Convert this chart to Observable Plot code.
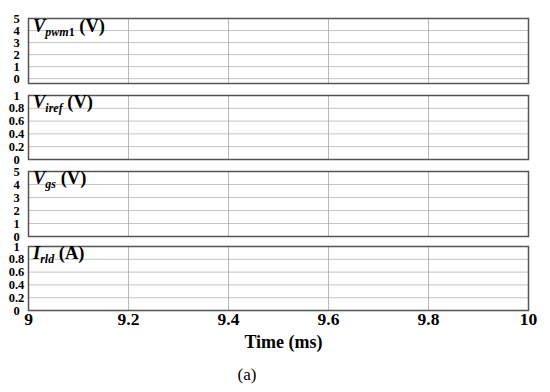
<!DOCTYPE html>
<html>
<head>
<meta charset="utf-8">
<script src="https://cdn.jsdelivr.net/npm/d3@7"></script>
<script src="https://cdn.jsdelivr.net/npm/@observablehq/plot@0.6"></script>
<style>
  html, body { margin: 0; padding: 0; background: #fff; }
  #chart { position: relative; width: 550px; height: 392px; font-family: "Liberation Serif", "Times New Roman", serif; }
  #chart svg { position: absolute; left: 0; overflow: visible; }
  #caption { position: absolute; left: 0; width: 494px; top: 365px; text-align: center; font-size: 17px; color: #000; }
</style>
</head>
<body>
<div id="chart"><div id="caption">(a)</div></div>
<script>
// ---- data ----
const xDomain = [9, 10];
const xTicks = [9, 9.2, 9.4, 9.6, 9.8, 10];
const xGrid = [9.2, 9.4, 9.6, 9.8];
const xLabel = "Time (ms)";

const panelMain = ["V", "V", "V", "I"];
const panelSub = ["pwm", "iref", "gs", "rld"];
const panelSubTail = ["1", "", "", ""];
const panelUnit = ["(V)", "(V)", "(V)", "(A)"];
const panelDomains = [[-0.4, 5], [0, 1], [0, 5], [0, 1]];
const ticksVolt5 = [0, 1, 2, 3, 4, 5];
const ticksUnit1 = [0, 0.2, 0.4, 0.6, 0.8, 1];
const panelTicks = [ticksVolt5, ticksUnit1, ticksVolt5, ticksUnit1];

// ---- layout ----
const frameTops = [18, 95, 171, 246];
const frameHeights = [65, 64, 65, 64];
const mTop = 4, mBot = 4, mLeft = 28, mRight = 22;
const chart = document.getElementById("chart");

panelMain.forEach((m, i) => {
  const last = i === panelMain.length - 1;
  const marginBottom = last ? 44 : mBot;
  const marks = [
    Plot.ruleY(panelTicks[i], {stroke: "#c4c4c4", strokeWidth: 1}),
    Plot.ruleX(xGrid, {stroke: "#a8a8a8", strokeWidth: 0.8}),
    Plot.axisY(panelTicks[i], {
      tickSize: 0, tickPadding: 3, textAnchor: "middle", dx: -9,
      fontSize: 12.5, fontWeight: "bold", fill: "#000", label: null,
      tickFormat: d => String(d)
    }),
    Plot.frame({stroke: "#555", strokeWidth: 1.5})
  ];
  if (last) {
    marks.push(Plot.axisX(xTicks, {
      tickSize: 0, tickPadding: 2, fontSize: 17.5, fontWeight: "bold", fill: "#000",
      label: null, tickFormat: d => String(d)
    }));
    marks.push(Plot.text([xLabel], {
      frameAnchor: "bottom", dy: 37, dx: 5, fontSize: 18, fontWeight: "bold", fill: "#000"
    }));
  } else {
    marks.push(Plot.axisX({ticks: [], label: null}));
  }
  const svg = Plot.plot({
    width: 550,
    height: frameHeights[i] + mTop + marginBottom,
    marginLeft: mLeft, marginRight: mRight, marginTop: mTop, marginBottom,
    style: {fontFamily: "Liberation Serif, serif", background: "transparent", overflow: "visible"},
    x: {domain: xDomain},
    y: {domain: panelDomains[i]},
    marks
  });
  svg.style.top = (frameTops[i] - mTop) + "px";
  const xs = svg.scale("x");
  let x0 = xs && typeof xs.apply === "function" ? xs.apply(xDomain[0]) : NaN;
  if (!isFinite(x0)) x0 = xs && xs.range ? xs.range[0] : mLeft;
  const t = d3.select(svg).append("text")
    .attr("x", x0 + 5)
    .attr("y", mTop + (i === 0 ? 14 : 13))
    .attr("text-anchor", "start")
    .attr("font-family", "Liberation Serif, serif")
    .attr("fill", "#000");
  t.append("tspan").attr("font-size", 18.5).attr("font-weight", "bold").attr("font-style", "italic").text(m);
  t.append("tspan").attr("font-size", 12).attr("font-weight", "bold").attr("font-style", "italic").attr("dy", 4).text(panelSub[i]);
  if (panelSubTail[i]) t.append("tspan").attr("font-size", 12).attr("font-weight", "bold").text(panelSubTail[i]);
  t.append("tspan").attr("font-size", 18.5).attr("font-weight", "bold").attr("dy", -4).text(" " + panelUnit[i]);
  chart.appendChild(svg);
});
</script>
</body>
</html>
